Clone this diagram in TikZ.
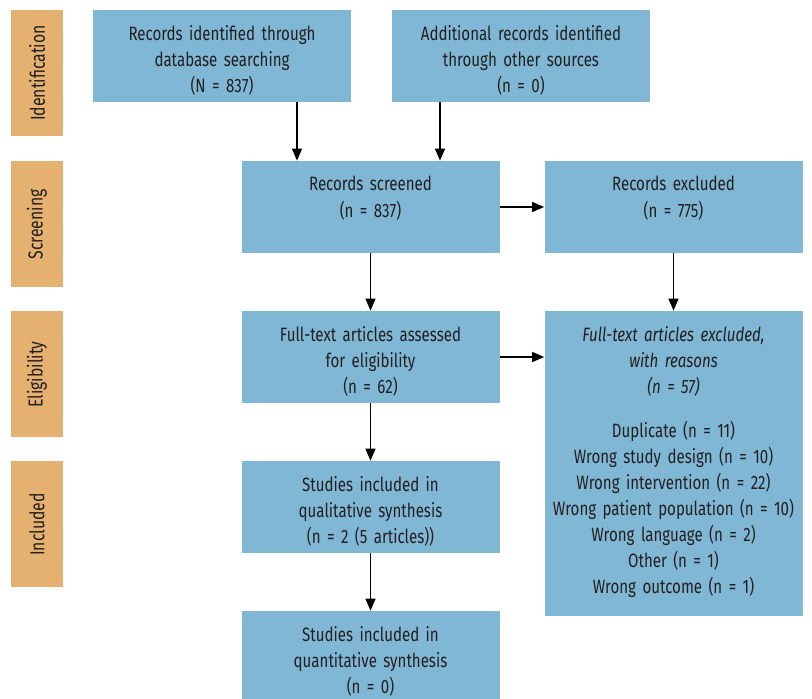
\documentclass[tikz,border=0pt]{standalone}
\usepackage{fontspec}
\setmainfont{Fira Sans}[FakeStretch=0.78]
\usetikzlibrary{arrows.meta}
\usetikzlibrary{positioning}

\definecolor{boxblue}{RGB}{127,183,212}
\definecolor{stageorange}{RGB}{229,177,112}
\definecolor{textgray}{RGB}{35,31,32}

\begin{document}
\begin{tikzpicture}[
        node distance=3cm and 6.06cm,
        on grid,
        >={Triangle[length=0.24cm,width=0.2cm]},
        every node/.style={font=\fontsize{11}{14.8}\selectfont, text=textgray},
        box/.style={fill=boxblue, minimum width=5.16cm, minimum height=1.84cm, inner sep=0pt},
        boxtext/.style={anchor=north, yshift=-0.31cm, text width=5cm, align=center, inner sep=0pt},
        stage/.style={fill=stageorange, rotate=90, minimum width=2.52cm,
            minimum height=1.04cm, inner sep=0pt, font=\fontsize{11.5}{14}\selectfont}
    ]
    \useasboundingbox (0,0) rectangle (16.24,-13.98);

    % Stage labels on the left
    \node[stage] (ident) at (0.74,-1.46) {Identification};
    \node[stage, below=3.03cm of ident] (screen) {Screening};
    \node[stage, below=of screen] (elig) {Eligibility};
    \node[stage, below=of elig] (incl) {Included};

    % Identification boxes
    \node[box, label={[boxtext]north:{Records identified through\\database searching\\(N = 837)}}]
        (db) at (4.44,-1.12) {};
    \node[box, right=5.98cm of db,
        label={[boxtext]north:{Additional records identified\\through other sources\\(n = 0)}}] (other) {};

    % Screening
    \node[box, label={[boxtext]north:{Records screened\\(n = 837)}}] (screened) at (7.41,-4.14) {};
    \node[box, right=of screened, label={[boxtext]north:{Records excluded\\(n = 775)}}] (excluded) {};

    % Eligibility
    \node[box, below=of screened,
        label={[boxtext]north:{Full-text articles assessed\\for eligibility\\(n = 62)}}] (fulltext) {};
    \node[box, minimum height=6.1cm, below right=2.13cm and 6.06cm of fulltext,
        label={[boxtext]north:{\textit{Full-text articles excluded,}\\\textit{with reasons}\\\textit{(n = 57)}\\[0.36cm]
         Duplicate (n = 11)\\Wrong study design (n = 10)\\Wrong intervention (n = 22)\\
         Wrong patient population (n = 10)\\Wrong language (n = 2)\\Other (n = 1)\\Wrong outcome (n = 1)}}]
        (ftexcl) {};

    % Included
    \node[box, below=of fulltext,
        label={[boxtext]north:{Studies included in\\qualitative synthesis\\(n = 2 (5 articles))}}] (qual) {};
    \node[box, below=of qual,
        label={[boxtext]north:{Studies included in\\quantitative synthesis\\(n = 0)}}] (quant) {};

    % Arrows
    \draw[->, line width=0.7pt] ([xshift=1.5cm]db.south) -- ([xshift=1.5cm]db.south |- screened.north);
    \draw[->, line width=0.7pt] ([xshift=-1.62cm]other.south) -- ([xshift=-1.62cm]other.south |- screened.north);
    \draw[->, line width=0.7pt] (screened) -- (excluded);
    \draw[->, line width=0.7pt] (screened) -- (fulltext);
    \draw[->, line width=0.7pt] (excluded) -- (ftexcl);
    \draw[->, line width=0.7pt] (fulltext.east) -- (fulltext.east -| ftexcl.west);
    \draw[->, line width=0.7pt] (fulltext) -- (qual);
    \draw[->, line width=0.7pt] (qual) -- (quant);

\end{tikzpicture}
\end{document}
